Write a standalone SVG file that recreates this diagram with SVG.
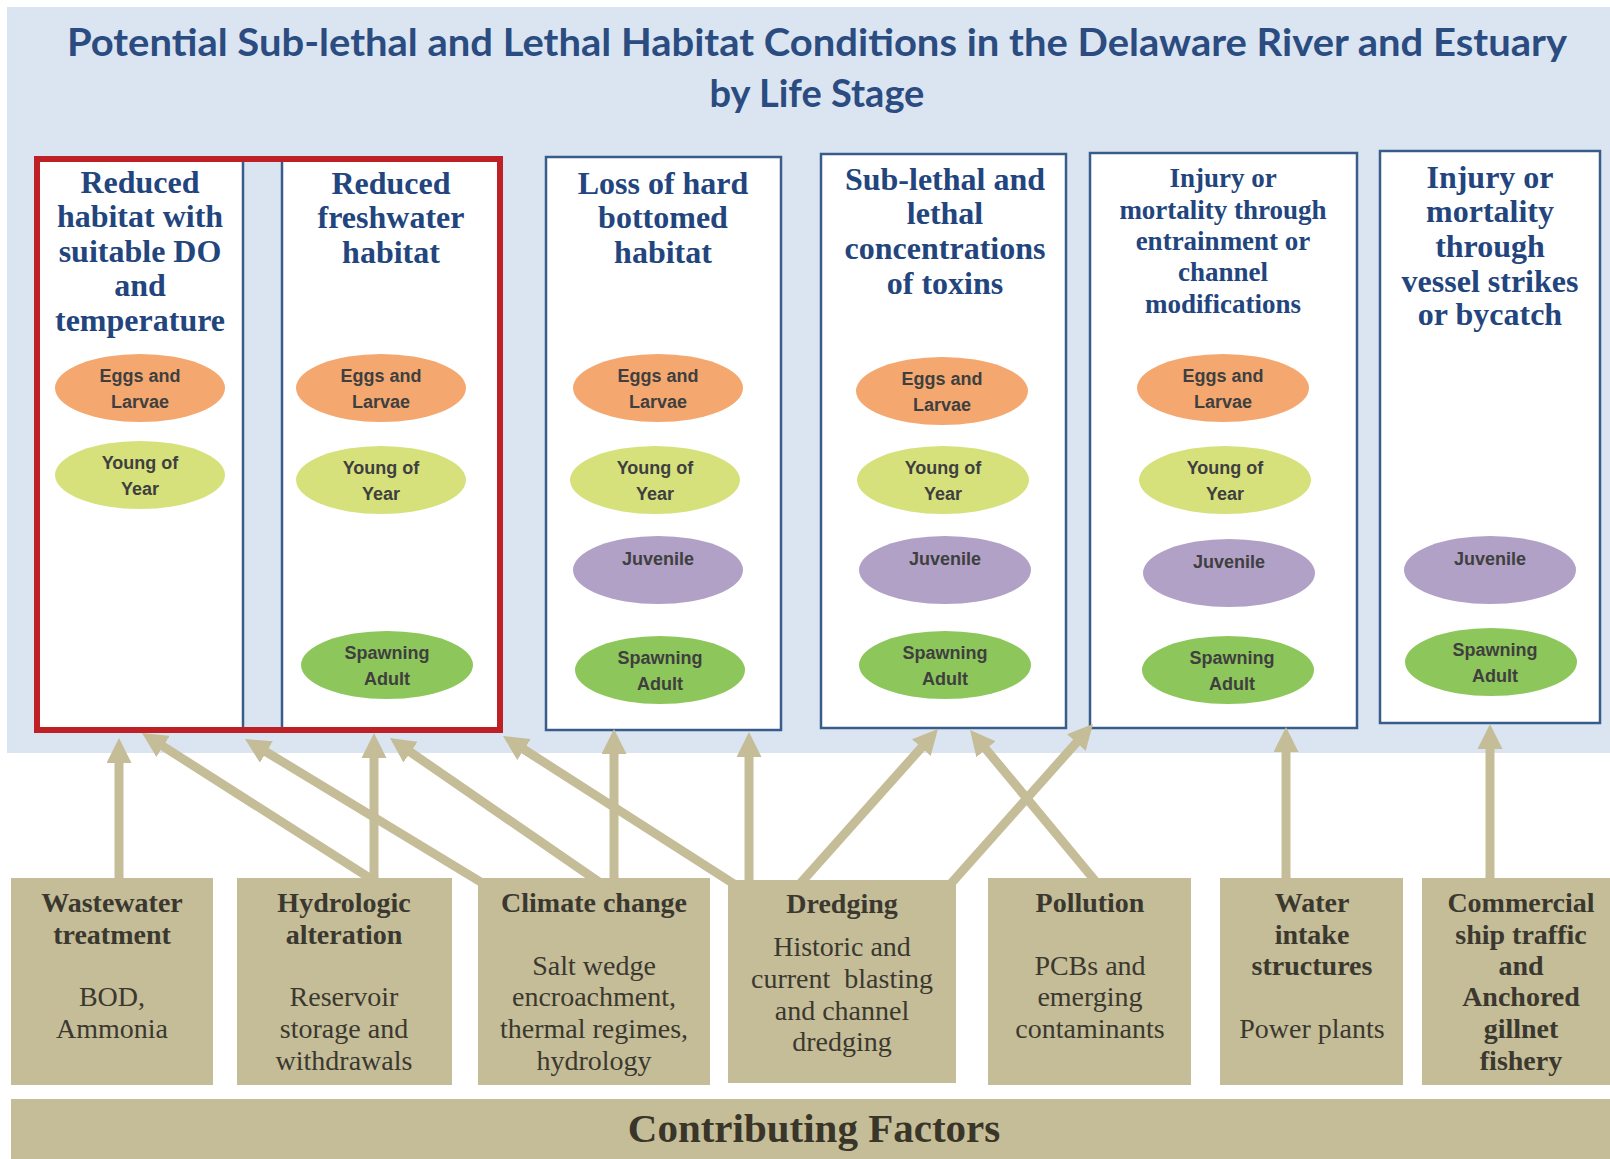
<svg xmlns="http://www.w3.org/2000/svg" width="1610" height="1159" viewBox="0 0 1610 1159">
<defs>
<marker id="ah" viewBox="0 0 25 25" markerUnits="userSpaceOnUse" markerWidth="25" markerHeight="25" refX="10" refY="12.5" orient="auto">
<path d="M0,0 L25,12.5 L0,25 z" fill="#C4BD97"/>
</marker>
<style>
.panel{fill:#DBE5F1}
.title{font-family:Lato,"Liberation Sans",sans-serif;font-weight:700;fill:#2B4C80;text-anchor:middle}
.col{fill:#FFFFFF;stroke:#385D8A;stroke-width:2.5}
.ctitle{font-family:"Liberation Serif",serif;font-weight:700;fill:#23457D;text-anchor:middle;font-size:32px}
.ctitle.sm{font-size:27px}
.et{font-family:"Liberation Sans",sans-serif;font-weight:700;fill:#3F3F3F;text-anchor:middle;font-size:18px}
.eggs{fill:#F4A870}
.yoy{fill:#D7E17C}
.juv{fill:#B1A1C7}
.spawn{fill:#8DC65A}
.fbox{fill:#C4BD97}
.fh{font-family:"Liberation Serif",serif;font-weight:700;fill:#3B3830;text-anchor:middle;font-size:28px}
.fb{font-family:"Liberation Serif",serif;fill:#3B3830;text-anchor:middle;font-size:28px}
.conn line{stroke:#C4BD97;stroke-width:9;marker-end:url(#ah)}
</style>
</defs>
<rect width="1610" height="1159" fill="#FFFFFF"/>
<rect class="panel" x="7" y="7" width="1603" height="746"/>
<g id="title">
<text class="title" x="817" y="56" font-size="38" textLength="1500" lengthAdjust="spacingAndGlyphs">Potential Sub-lethal and Lethal Habitat Conditions in the Delaware River and Estuary</text>
<text class="title" x="817" y="107" font-size="38">by Life Stage</text>
</g>

<g id="col-do">
<rect x="40" y="162" width="203" height="565" fill="#FFFFFF"/>
<line x1="243" y1="162" x2="243" y2="727" stroke="#385D8A" stroke-width="2.5"/>
<text class="ctitle" x="140"><tspan x="140" y="193">Reduced</tspan><tspan x="140" y="227">habitat with</tspan><tspan x="140" y="262">suitable DO</tspan><tspan x="140" y="296">and</tspan><tspan x="140" y="331">temperature</tspan></text>
<g id="do-eggs"><ellipse class="eggs" cx="140" cy="388" rx="85" ry="34"/><text class="et"><tspan x="140" y="382">Eggs and</tspan><tspan x="140" y="408">Larvae</tspan></text></g>
<g id="do-yoy"><ellipse class="yoy" cx="140" cy="475" rx="85" ry="34"/><text class="et"><tspan x="140" y="469">Young of</tspan><tspan x="140" y="495">Year</tspan></text></g>
</g>

<g id="col-fresh">
<rect x="282" y="162" width="215" height="565" fill="#FFFFFF"/>
<line x1="282" y1="162" x2="282" y2="727" stroke="#385D8A" stroke-width="2.5"/>
<text class="ctitle"><tspan x="391" y="194">Reduced</tspan><tspan x="391" y="228">freshwater</tspan><tspan x="391" y="263">habitat</tspan></text>
<g id="fresh-eggs"><ellipse class="eggs" cx="381" cy="388" rx="85" ry="34"/><text class="et"><tspan x="381" y="382">Eggs and</tspan><tspan x="381" y="408">Larvae</tspan></text></g>
<g id="fresh-yoy"><ellipse class="yoy" cx="381" cy="480" rx="85" ry="34"/><text class="et"><tspan x="381" y="474">Young of</tspan><tspan x="381" y="500">Year</tspan></text></g>
<g id="fresh-spawn"><ellipse class="spawn" cx="387" cy="665" rx="86" ry="34"/><text class="et"><tspan x="387" y="659">Spawning</tspan><tspan x="387" y="685">Adult</tspan></text></g>
</g>
<rect id="red-frame" x="37" y="159" width="463" height="571" fill="none" stroke="#BE2026" stroke-width="6"/>

<g id="col-hard">
<rect class="col" x="546" y="157" width="235" height="573"/>
<text class="ctitle"><tspan x="663" y="194">Loss of hard</tspan><tspan x="663" y="228">bottomed</tspan><tspan x="663" y="263">habitat</tspan></text>
<g id="hard-eggs"><ellipse class="eggs" cx="658" cy="388" rx="85" ry="34"/><text class="et"><tspan x="658" y="382">Eggs and</tspan><tspan x="658" y="408">Larvae</tspan></text></g>
<g id="hard-yoy"><ellipse class="yoy" cx="655" cy="480" rx="85" ry="34"/><text class="et"><tspan x="655" y="474">Young of</tspan><tspan x="655" y="500">Year</tspan></text></g>
<g id="hard-juv"><ellipse class="juv" cx="658" cy="570" rx="85" ry="34"/><text class="et" x="658" y="565">Juvenile</text></g>
<g id="hard-spawn"><ellipse class="spawn" cx="660" cy="670" rx="85" ry="34"/><text class="et"><tspan x="660" y="664">Spawning</tspan><tspan x="660" y="690">Adult</tspan></text></g>
</g>

<g id="col-toxins">
<rect class="col" x="821" y="154" width="245" height="574"/>
<text class="ctitle"><tspan x="945" y="190">Sub-lethal and</tspan><tspan x="945" y="224">lethal</tspan><tspan x="945" y="259">concentrations</tspan><tspan x="945" y="294">of toxins</tspan></text>
<g id="tox-eggs"><ellipse class="eggs" cx="942" cy="391" rx="86" ry="34"/><text class="et"><tspan x="942" y="385">Eggs and</tspan><tspan x="942" y="411">Larvae</tspan></text></g>
<g id="tox-yoy"><ellipse class="yoy" cx="943" cy="480" rx="86" ry="34"/><text class="et"><tspan x="943" y="474">Young of</tspan><tspan x="943" y="500">Year</tspan></text></g>
<g id="tox-juv"><ellipse class="juv" cx="945" cy="570" rx="86" ry="34"/><text class="et" x="945" y="565">Juvenile</text></g>
<g id="tox-spawn"><ellipse class="spawn" cx="945" cy="665" rx="86" ry="34"/><text class="et"><tspan x="945" y="659">Spawning</tspan><tspan x="945" y="685">Adult</tspan></text></g>
</g>

<g id="col-entrain">
<rect class="col" x="1090" y="153" width="267" height="575"/>
<text class="ctitle sm"><tspan x="1223" y="187">Injury or</tspan><tspan x="1223" y="219">mortality through</tspan><tspan x="1223" y="250">entrainment or</tspan><tspan x="1223" y="281">channel</tspan><tspan x="1223" y="313">modifications</tspan></text>
<g id="ent-eggs"><ellipse class="eggs" cx="1223" cy="388" rx="86" ry="34"/><text class="et"><tspan x="1223" y="382">Eggs and</tspan><tspan x="1223" y="408">Larvae</tspan></text></g>
<g id="ent-yoy"><ellipse class="yoy" cx="1225" cy="480" rx="86" ry="34"/><text class="et"><tspan x="1225" y="474">Young of</tspan><tspan x="1225" y="500">Year</tspan></text></g>
<g id="ent-juv"><ellipse class="juv" cx="1229" cy="573" rx="86" ry="34"/><text class="et" x="1229" y="568">Juvenile</text></g>
<g id="ent-spawn"><ellipse class="spawn" cx="1228" cy="670" rx="86" ry="34"/><text class="et"><tspan x="1232" y="664">Spawning</tspan><tspan x="1232" y="690">Adult</tspan></text></g>
</g>

<g id="col-vessel">
<rect class="col" x="1380" y="151" width="220" height="572"/>
<text class="ctitle"><tspan x="1490" y="188">Injury or</tspan><tspan x="1490" y="222">mortality</tspan><tspan x="1490" y="257">through</tspan><tspan x="1490" y="292">vessel strikes</tspan><tspan x="1490" y="325">or bycatch</tspan></text>
<g id="ves-juv"><ellipse class="juv" cx="1490" cy="570" rx="86" ry="34"/><text class="et" x="1490" y="565">Juvenile</text></g>
<g id="ves-spawn"><ellipse class="spawn" cx="1491" cy="662" rx="86" ry="34"/><text class="et"><tspan x="1495" y="656">Spawning</tspan><tspan x="1495" y="682">Adult</tspan></text></g>
</g>

<g id="connectors" class="conn">
<line x1="119" y1="885" x2="119" y2="753"/>
<line x1="376" y1="882" x2="154.7" y2="741"/>
<line x1="374" y1="885" x2="374" y2="748"/>
<line x1="484" y1="884" x2="257.8" y2="746.8"/>
<line x1="599" y1="882" x2="402.3" y2="746.5"/>
<line x1="614" y1="885" x2="614" y2="744"/>
<line x1="734" y1="884" x2="515.6" y2="744.1"/>
<line x1="749" y1="885" x2="749" y2="747"/>
<line x1="798" y1="886" x2="928" y2="740.2"/>
<line x1="1097" y1="883" x2="979.6" y2="741.5"/>
<line x1="947" y1="888" x2="1083" y2="735.2"/>
<line x1="1286" y1="885" x2="1286" y2="742"/>
<line x1="1490" y1="885" x2="1490" y2="739"/>
</g>

<g id="f-wastewater">
<rect class="fbox" x="11" y="878" width="202" height="207"/>
<text class="fh"><tspan x="112" y="912">Wastewater</tspan><tspan x="112" y="944">treatment</tspan></text>
<text class="fb"><tspan x="112" y="1006">BOD,</tspan><tspan x="112" y="1038">Ammonia</tspan></text>
</g>
<g id="f-hydrologic">
<rect class="fbox" x="237" y="878" width="215" height="207"/>
<text class="fh"><tspan x="344" y="912">Hydrologic</tspan><tspan x="344" y="944">alteration</tspan></text>
<text class="fb"><tspan x="344" y="1006">Reservoir</tspan><tspan x="344" y="1038">storage and</tspan><tspan x="344" y="1070">withdrawals</tspan></text>
</g>
<g id="f-climate">
<rect class="fbox" x="478" y="878" width="232" height="207"/>
<text class="fh" x="594" y="912">Climate change</text>
<text class="fb"><tspan x="594" y="975">Salt wedge</tspan><tspan x="594" y="1006">encroachment,</tspan><tspan x="594" y="1038">thermal regimes,</tspan><tspan x="594" y="1070">hydrology</tspan></text>
</g>
<g id="f-dredging">
<rect class="fbox" x="728" y="880" width="228" height="203"/>
<text class="fh" x="842" y="913">Dredging</text>
<text class="fb"><tspan x="842" y="956">Historic and</tspan><tspan x="842" y="988" xml:space="preserve">current  blasting</tspan><tspan x="842" y="1020">and channel</tspan><tspan x="842" y="1051">dredging</tspan></text>
</g>
<g id="f-pollution">
<rect class="fbox" x="988" y="878" width="203" height="207"/>
<text class="fh" x="1090" y="912">Pollution</text>
<text class="fb"><tspan x="1090" y="975">PCBs and</tspan><tspan x="1090" y="1006">emerging</tspan><tspan x="1090" y="1038">contaminants</tspan></text>
</g>
<g id="f-intake">
<rect class="fbox" x="1220" y="878" width="183" height="207"/>
<text class="fh"><tspan x="1312" y="912">Water</tspan><tspan x="1312" y="944">intake</tspan><tspan x="1312" y="975">structures</tspan></text>
<text class="fb" x="1312" y="1038">Power plants</text>
</g>
<g id="f-commercial">
<rect class="fbox" x="1422" y="878" width="188" height="207"/>
<text class="fh"><tspan x="1521" y="912">Commercial</tspan><tspan x="1521" y="944">ship traffic</tspan><tspan x="1521" y="975">and</tspan><tspan x="1521" y="1006">Anchored</tspan><tspan x="1521" y="1038">gillnet</tspan><tspan x="1521" y="1070">fishery</tspan></text>
</g>
<g id="contributing">
<rect class="fbox" x="11" y="1099" width="1599" height="60"/>
<text x="814" y="1142" font-family="Liberation Serif, serif" font-weight="700" font-size="41" fill="#3A3529" text-anchor="middle">Contributing Factors</text>
</g>
</svg>
